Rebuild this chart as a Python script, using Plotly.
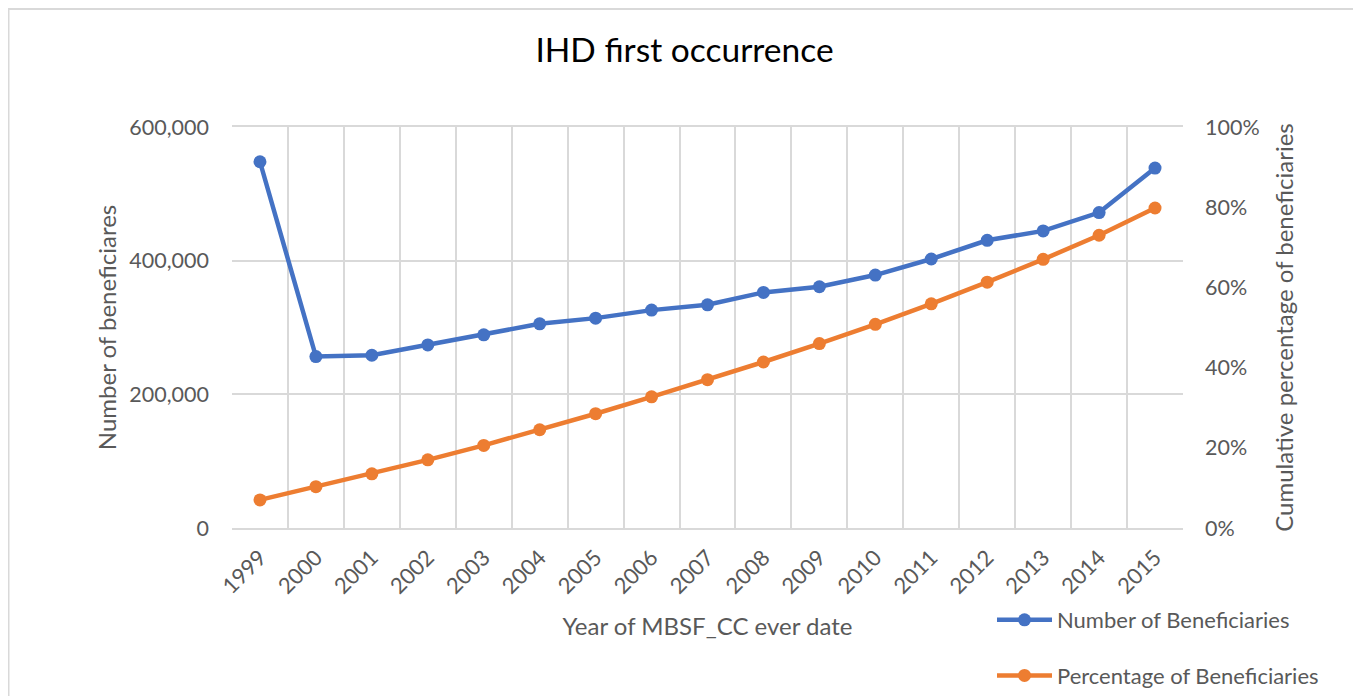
import plotly.graph_objects as go

years = [str(y) for y in range(1999, 2016)]
num_beneficiaries = [548000, 256500, 258500, 274000, 289000, 305500, 314000, 326000, 334000,
                     352500, 361000, 378500, 402500, 430500, 444500, 472000, 538500]
pct_beneficiaries = [7.0, 10.3, 13.5, 17.0, 20.6, 24.5, 28.5, 32.7, 37.0,
                     41.4, 46.0, 50.8, 55.9, 61.3, 67.0, 73.0, 79.8]

FONT = "Lato"
TXT = "#595959"
GRID = "#D9D9D9"

# figure is placed at (8, 8) in the page by the default body margin
W, H = 1353, 688
L, R, T, B = 224, 178, 119, 168
PW, PH = W - L - R, H - T - B


def px(x):
    return (x - L) / PW


def py(y):
    return (H - B - y) / PH


fig = go.Figure()
fig.add_trace(go.Scatter(
    x=years, y=num_beneficiaries, name="Number of Beneficiaries",
    mode="lines+markers", line=dict(color="#4472C4", width=4.5),
    marker=dict(size=13, color="#4472C4"), legendgroup="a", yaxis="y"))
fig.add_trace(go.Scatter(
    x=years, y=pct_beneficiaries, name="Percentage of Beneficiaries",
    mode="lines+markers", line=dict(color="#ED7D31", width=4.5),
    marker=dict(size=13, color="#ED7D31"), legendgroup="b", yaxis="y2"))

fig.update_layout(
    width=W, height=H,
    margin=dict(l=L, r=R, t=T, b=B, autoexpand=False),
    paper_bgcolor="white", plot_bgcolor="white",
    font=dict(family=FONT, color=TXT, size=22),
    title=dict(text="IHD first occurrence", x=0.5, xanchor="center", y=1 - 42 / H, yanchor="middle",
               font=dict(family=FONT, size=33.5, color="#000000")),
    xaxis=dict(type="category", range=[-0.5, 16.5], showgrid=True, gridcolor=GRID, gridwidth=2,
               tickson="boundaries", ticks="", tickangle=-45, ticklabelstandoff=6,
               showline=True, linecolor=GRID, linewidth=2, mirror=True, automargin=False,
               tickfont=dict(size=22, color=TXT),
               title=dict(text="Year of MBSF_CC ever date", font=dict(size=24, color=TXT), standoff=20)),
    yaxis=dict(range=[0, 600000], tickvals=[0, 200000, 400000, 600000],
               ticktext=["0", "200,000", "400,000", "600,000"],
               showgrid=True, gridcolor=GRID, gridwidth=2, zeroline=False,
               showline=False, ticks="", ticklabelstandoff=22, automargin=False,
               tickfont=dict(size=21.5, color=TXT),
               title=dict(text="Number of beneficiares", font=dict(size=24, color=TXT), standoff=5)),
    yaxis2=dict(range=[0, 100], overlaying="y", side="right",
                tickvals=[0, 20, 40, 60, 80, 100],
                ticktext=["0%", "20%", "40%", "60%", "80%", "100%"],
                showgrid=False, zeroline=False, showline=False, ticks="", ticklabelstandoff=21,
                automargin=False, tickfont=dict(size=21.5, color=TXT),
                title=dict(text="Cumulative percentage of beneficiaries", font=dict(size=24, color=TXT), standoff=17)),
    legend=dict(x=px(984), xanchor="left", y=py(591), yanchor="top", orientation="v",
                traceorder="grouped", tracegroupgap=24, bgcolor="rgba(0,0,0,0)",
                font=dict(size=22, color=TXT), itemwidth=55),
    showlegend=True,
    shapes=[dict(type="rect", xref="paper", yref="paper",
                 x0=px(0.5), x1=px(W + 20),
                 y0=py(H + 20), y1=py(1),
                 line=dict(color=GRID, width=2), fillcolor="rgba(0,0,0,0)", layer="below")],
)

fig.write_html("out.html")
